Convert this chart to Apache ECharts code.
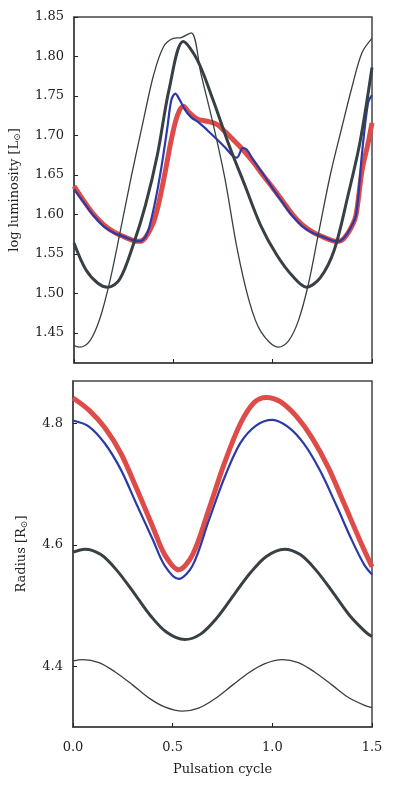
<!DOCTYPE html>
<html>
<head>
<meta charset="utf-8">
<script src="https://cdn.jsdelivr.net/npm/echarts@6/dist/echarts.min.js"></script>
<style>
  html, body { margin: 0; padding: 0; background: #fff; }
  #chart { width: 399px; height: 797px; }
</style>
</head>
<body>
<div id="chart"></div>
<script>
// top panel: log luminosity (each curve has its own phase samples, placed on its extrema)
var thinLumX = [0, 0.03, 0.08, 0.13, 0.18, 0.23, 0.29, 0.35, 0.40, 0.45, 0.50, 0.54, 0.59, 0.64, 0.70, 0.76, 0.82, 0.88,
                0.94, 1.03, 1.08, 1.13, 1.18, 1.23, 1.29, 1.35, 1.40, 1.45, 1.50];
var lumThin = [1.434, 1.432, 1.440, 1.468, 1.515, 1.575, 1.650, 1.720, 1.776, 1.812, 1.823, 1.824, 1.830, 1.777, 1.715, 1.645,
               1.558, 1.492, 1.452, 1.432, 1.440, 1.466, 1.512, 1.575, 1.650, 1.712, 1.762, 1.805, 1.823];

var thickLumX = [0, 0.06, 0.12, 0.17, 0.23, 0.30, 0.36, 0.42, 0.48, 0.55, 0.62, 0.70, 0.78, 0.86, 0.94, 1.02, 1.10, 1.17,
                 1.24, 1.31, 1.38, 1.44, 1.50];
var lumThick = [1.564, 1.530, 1.513, 1.508, 1.518, 1.563, 1.612, 1.676, 1.760, 1.819, 1.796, 1.745, 1.688, 1.637, 1.586,
                1.549, 1.522, 1.508, 1.520, 1.555, 1.625, 1.692, 1.786];

var blueLumX = [0, 0.05, 0.10, 0.15, 0.20, 0.25, 0.30, 0.33, 0.36, 0.38, 0.41, 0.44, 0.47, 0.49, 0.51, 0.53, 0.56, 0.59,
                0.63, 0.67, 0.72, 0.76, 0.80, 0.82, 0.85, 0.87, 0.90, 0.95, 1.00, 1.05, 1.10, 1.15, 1.20, 1.25, 1.30,
                1.33, 1.36, 1.39, 1.42, 1.45, 1.48, 1.50];
var lumBlue = [1.632, 1.615, 1.598, 1.585, 1.577, 1.572, 1.567, 1.566, 1.572, 1.585, 1.618, 1.660, 1.710, 1.745, 1.753, 1.746,
               1.732, 1.723, 1.716, 1.707, 1.695, 1.685, 1.674, 1.672, 1.684, 1.682, 1.670, 1.652, 1.633, 1.615, 1.598,
               1.585, 1.577, 1.572, 1.567, 1.566, 1.571, 1.582, 1.600, 1.678, 1.741, 1.751];

var redLumX = [0, 0.05, 0.10, 0.15, 0.20, 0.25, 0.30, 0.33, 0.36, 0.40, 0.43, 0.46, 0.49, 0.52, 0.55, 0.58, 0.62, 0.67,
               0.72, 0.76, 0.80, 0.85, 0.90, 0.95, 1.00, 1.05, 1.10, 1.15, 1.20, 1.25, 1.30, 1.33, 1.36, 1.40, 1.42,
               1.45, 1.48, 1.50];
var lumRed = [1.636, 1.617, 1.600, 1.587, 1.578, 1.572, 1.567, 1.566, 1.571, 1.590, 1.618, 1.655, 1.695, 1.725, 1.737, 1.729,
              1.721, 1.718, 1.714, 1.705, 1.695, 1.682, 1.667, 1.650, 1.634, 1.617, 1.600, 1.587, 1.578, 1.572, 1.567,
              1.566, 1.570, 1.586, 1.600, 1.656, 1.690, 1.716];

// bottom panel: radius
var redRadX = [0, 0.08, 0.16, 0.24, 0.32, 0.40, 0.46, 0.53, 0.60, 0.68, 0.76, 0.84, 0.91, 0.97, 1.04, 1.12, 1.20, 1.28,
               1.36, 1.44, 1.50];
var radRed = [4.842, 4.822, 4.793, 4.751, 4.692, 4.630, 4.584, 4.559, 4.584, 4.657, 4.735, 4.800, 4.835, 4.843, 4.836,
              4.812, 4.776, 4.728, 4.668, 4.607, 4.564];

var blueRadX = [0, 0.08, 0.16, 0.24, 0.32, 0.40, 0.46, 0.53, 0.60, 0.68, 0.76, 0.84, 0.92, 1.00, 1.08, 1.16, 1.24, 1.32,
                1.40, 1.46, 1.50];
var radBlue = [4.805, 4.795, 4.767, 4.724, 4.666, 4.609, 4.566, 4.544, 4.566, 4.639, 4.711, 4.768, 4.797, 4.806, 4.794,
               4.766, 4.722, 4.666, 4.607, 4.568, 4.551];

var thickRadX = [0, 0.06, 0.14, 0.22, 0.31, 0.39, 0.47, 0.56, 0.64, 0.72, 0.81, 0.89, 0.97, 1.06, 1.14, 1.22, 1.31, 1.39,
                 1.47, 1.50];
var radThick = [4.588, 4.593, 4.584, 4.558, 4.519, 4.483, 4.456, 4.444, 4.453, 4.479, 4.519, 4.554, 4.581, 4.593, 4.584,
                4.558, 4.519, 4.483, 4.456, 4.449];

var thinRadX = [0, 0.05, 0.13, 0.21, 0.30, 0.38, 0.46, 0.55, 0.63, 0.71, 0.80, 0.88, 0.96, 1.05, 1.13, 1.21, 1.30, 1.38,
                1.46, 1.50];
var radThin = [4.409, 4.411, 4.406, 4.391, 4.369, 4.348, 4.333, 4.326, 4.331, 4.346, 4.369, 4.389, 4.404, 4.411, 4.406,
               4.391, 4.369, 4.349, 4.336, 4.332];

var lumTicks = [1.45, 1.50, 1.55, 1.60, 1.65, 1.70, 1.75, 1.80, 1.85];
var radTicks = [4.4, 4.6, 4.8];

var RED = '#de4c4a', BLUE = '#2b3aa6', DARK = '#364045';
var FONT = 'DejaVu Serif';

function pairs(xs, ys) {
    return ys.map(function (y, i) { return [xs[i], y]; });
}

function xAxisFor(gridIndex, showLabels) {
    return {
        type: 'value', gridIndex: gridIndex, min: 0, max: 1.5, interval: 0.5,
        axisLine: { show: true, lineStyle: { color: '#444', width: 1.5 } },
        axisTick: { show: true, inside: true, length: 4, lineStyle: { color: '#222', width: 1 } },
        axisLabel: { show: showLabels, margin: 14, color: '#222', fontFamily: FONT, fontSize: 13,
                     formatter: function (v) { return v.toFixed(1); } },
        splitLine: { show: false },
        name: showLabels ? 'Pulsation cycle' : '',
        nameLocation: 'middle', nameGap: 36,
        nameTextStyle: { color: '#222', fontFamily: FONT, fontSize: 13 }
    };
}

function line(gi, xs, ys, color, width) {
    return {
        type: 'line', xAxisIndex: gi, yAxisIndex: gi, data: pairs(xs, ys),
        smooth: 0.33, showSymbol: false, lineStyle: { color: color, width: width }
    };
}

var chart = echarts.init(document.getElementById('chart'), null, { renderer: 'canvas' });
chart.setOption({
    backgroundColor: '#fff',
    animation: false,
    grid: [
        { left: 73, top: 17, width: 299, height: 346, show: true, borderColor: '#444', borderWidth: 1.5 },
        { left: 73, top: 381, width: 299, height: 346, show: true, borderColor: '#444', borderWidth: 1.5 }
    ],
    xAxis: [xAxisFor(0, false), xAxisFor(1, true)],
    yAxis: [
        {
            type: 'value', gridIndex: 0, min: 1.412, max: 1.85,
            axisLine: { show: true, lineStyle: { color: '#444', width: 1.5 } },
            axisTick: { show: true, inside: true, length: 4, customValues: lumTicks, lineStyle: { color: '#222' } },
            axisLabel: { margin: 10, color: '#222', fontFamily: FONT, fontSize: 13, customValues: lumTicks,
                         formatter: function (v) { return v.toFixed(2); } },
            splitLine: { show: false },
            name: 'log luminosity [L{sub|⊙}]', nameLocation: 'middle', nameGap: 52,
            nameTextStyle: { color: '#222', fontFamily: FONT, fontSize: 13,
                             rich: { sub: { fontFamily: FONT, fontSize: 9, verticalAlign: 'bottom', padding: [6, 0, 0, 0] } } }
        },
        {
            type: 'value', gridIndex: 1, min: 4.30, max: 4.87,
            axisLine: { show: true, lineStyle: { color: '#444', width: 1.5 } },
            axisTick: { show: true, inside: true, length: 4, customValues: radTicks, lineStyle: { color: '#222' } },
            axisLabel: { margin: 10, color: '#222', fontFamily: FONT, fontSize: 13, customValues: radTicks,
                         formatter: function (v) { return v.toFixed(1); } },
            splitLine: { show: false },
            name: 'Radius [R{sub|⊙}]', nameLocation: 'middle', nameGap: 44,
            nameTextStyle: { color: '#222', fontFamily: FONT, fontSize: 13,
                             rich: { sub: { fontFamily: FONT, fontSize: 9, verticalAlign: 'bottom', padding: [6, 0, 0, 0] } } }
        }
    ],
    series: [
        line(0, redLumX, lumRed, RED, 5),
        line(0, blueLumX, lumBlue, BLUE, 2.2),
        line(0, thickLumX, lumThick, DARK, 3),
        line(0, thinLumX, lumThin, DARK, 1.3),
        line(1, redRadX, radRed, RED, 5),
        line(1, blueRadX, radBlue, BLUE, 2.2),
        line(1, thickRadX, radThick, DARK, 3),
        line(1, thinRadX, radThin, DARK, 1.3)
    ]
});
</script>
</body>
</html>
